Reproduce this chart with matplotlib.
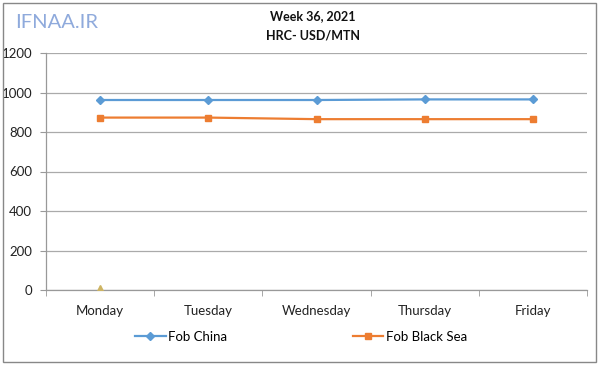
import matplotlib.pyplot as plt
from matplotlib.patches import Rectangle

# ========== Data ==========
days = ["Monday", "Tuesday", "Wednesday", "Thursday", "Friday"]
fob_china = [962, 962, 962, 965, 965]
fob_black_sea = [873, 873, 865, 865, 865]
# stray empty series marker shown at zero on Monday
extra_series = [0]

yticks = [0, 200, 400, 600, 800, 1000, 1200]

plt.rcParams['font.family'] = ['Lato', 'DejaVu Sans']

fig = plt.figure(figsize=(6, 3.65), dpi=100)
ax = fig.add_axes([46 / 600, 75 / 365, 541 / 600, 237 / 365])

x = list(range(len(days)))

# ---- Series ----
ax.plot(x, fob_china, color='#5B9BD5', linewidth=1.6, marker='D',
        markersize=4.5, label='Fob China', zorder=3)
ax.plot(x, fob_black_sea, color='#ED7D31', linewidth=1.6, marker='s',
        markersize=5, label='Fob Black Sea', zorder=3)
ax.plot(x[:len(extra_series)], extra_series, linestyle='none', marker='^',
        markersize=7, color='#CDB463', zorder=4)

# ---- Axes ----
ax.set_xlim(-0.5, len(days) - 0.5)
ax.set_ylim(0, 1200)
ax.set_yticks(yticks)
ax.set_yticklabels([str(v) for v in yticks], fontsize=9.5, color='#222222')
ax.set_xticks(x)
ax.set_xticklabels(days, fontsize=9.5, color='#222222')
ax.set_xticks([i - 0.5 for i in range(len(days) + 1)], minor=True)
ax.tick_params(axis='x', which='major', length=0, pad=11)
ax.tick_params(axis='x', which='minor', length=4, color='#999999', direction='out')
ax.tick_params(axis='y', length=4, color='#999999', pad=6)
ax.yaxis.grid(True, color='#AAAAAA', linewidth=0.9)
ax.set_axisbelow(True)
for side in ['top', 'right']:
    ax.spines[side].set_visible(False)
for side in ['left', 'bottom']:
    ax.spines[side].set_color('#999999')
    ax.spines[side].set_linewidth(0.9)

# ---- Titles ----
fig.text(313 / 600, 1 - 16 / 365, "Week 36, 2021", ha='center', va='center',
         fontsize=9, fontweight='bold', color='#111111')
fig.text(313 / 600, 1 - 36 / 365, "HRC- USD/MTN", ha='center', va='center',
         fontsize=9, fontweight='bold', color='#111111')

# watermark
fig.text(15 / 600, 1 - 22 / 365, "IFNAA.IR", ha='left', va='center',
         fontsize=14.5, color='#8FAADC')

# ---- Legend ----
fig.legend(loc='center', bbox_to_anchor=(301 / 600, 1 - 337 / 365), ncol=2,
           frameon=False, fontsize=9.5, columnspacing=9.5, handlelength=2.3,
           handletextpad=0.2)

# outer border
fig.patches.append(Rectangle((3 / 600, 3 / 365), 593 / 600, 359 / 365,
                             transform=fig.transFigure, fill=False,
                             edgecolor='#888888', linewidth=1))

fig.savefig("out.png", dpi=100)
